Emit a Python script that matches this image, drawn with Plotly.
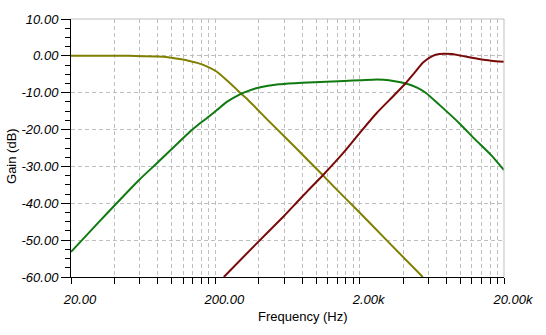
import math
import plotly.graph_objects as go

# Frequency response of a three-way crossover (gain in dB vs frequency in Hz)
low_freq = [20, 50, 80, 94, 110, 130, 150, 176, 205, 240, 281, 294, 328, 384,
            464, 614, 880, 1112, 1405, 1832, 3070, 5472]
low_gain = [0.0, 0.0, -0.2, -0.4, -0.8, -1.3, -1.9, -2.9, -4.3, -6.6, -9.1,
            -9.9, -11.5, -14.2, -17.5, -22.2, -28.4, -32.4, -36.5, -41.0,
            -50.0, -60.0]

mid_freq = [20, 31.5, 58.8, 80.4, 135, 150, 176, 205, 240, 294, 328, 384, 464,
            550, 718, 880, 1567, 2044, 2625, 2930, 3425, 4195, 5000, 5737,
            7140, 9760, 12560, 16348, 20000]
mid_gain = [-53.2, -44.9, -33.8, -28.8, -20.4, -18.9, -16.8, -14.7, -12.5,
            -10.5, -9.7, -8.8, -8.1, -7.7, -7.4, -7.2, -6.8, -6.6, -6.4, -6.5,
            -6.8, -7.5, -8.6, -10.0, -13.3, -18.2, -22.6, -27.0, -31.0]

high_freq = [229, 384, 596, 752, 880, 1112, 1567, 2044, 2625, 3425, 4195, 4700,
             5222, 5472, 6106, 6708, 7140, 7721, 8750, 10230, 11956, 13980,
             16348, 20000]
high_gain = [-60.0, -51.0, -43.5, -39.3, -36.5, -32.4, -26.0, -20.5, -15.5,
             -10.9, -7.3, -5.0, -2.8, -1.9, -0.5, 0.3, 0.5, 0.6, 0.5, 0.0,
             -0.5, -1.0, -1.3, -1.6]

# x ticks every 20*n per decade; only decade starts get a label
x_tick_vals = [m * d for d in (1, 10, 100) for m in range(20, 200, 20)] + [20000]
x_label_map = {20: "20.00", 200: "200.00", 2000: "2.00k", 20000: "20.00k"}
x_tick_text = [x_label_map.get(v, "") for v in x_tick_vals]

y_tick_vals = [10, 0, -10, -20, -30, -40, -50, -60]
y_tick_text = ["%.2f" % v for v in y_tick_vals]

FONT = "Liberation Sans, Arial, sans-serif"
GRID = "#bfbfbf"

fig = go.Figure()
for xs, ys, col in [(low_freq, low_gain, "#808000"),
                    (mid_freq, mid_gain, "#0f7a0f"),
                    (high_freq, high_gain, "#7a0a0a")]:
    fig.add_trace(go.Scatter(x=xs, y=ys, mode="lines",
                             line=dict(color=col, width=2, shape="spline",
                                       smoothing=0.5),
                             hoverinfo="skip"))

fig.update_layout(
    width=546, height=335,
    margin=dict(l=71, r=33, t=18, b=58),
    paper_bgcolor="white", plot_bgcolor="white",
    showlegend=False,
    font=dict(family=FONT, size=13, color="black"),
    xaxis=dict(
        type="log",
        range=[math.log10(20), math.log10(20000)],
        tickvals=x_tick_vals, ticktext=x_tick_text,
        ticks="outside", ticklen=6, tickcolor="black",
        tickfont=dict(family=FONT, size=13, style="italic"),
        ticklabelshift=9, ticklabelstandoff=4,
        showline=True, linecolor="black", linewidth=1,
        showgrid=True, gridcolor=GRID, griddash="4px,3px", gridwidth=1,
        zeroline=False,
    ),
    yaxis=dict(
        range=[-60, 10],
        tickvals=y_tick_vals, ticktext=y_tick_text,
        ticks="outside", ticklen=9, tickcolor="black",
        tickfont=dict(family=FONT, size=13, style="italic"),
        minor=dict(dtick=2.5, tick0=0, ticks="outside", ticklen=5,
                   tickcolor="black", showgrid=False),
        showline=True, linecolor="black", linewidth=1,
        showgrid=True, gridcolor=GRID, griddash="4px,3px", gridwidth=1,
        zeroline=False,
    ),
    shapes=[
        dict(type="line", xref="paper", yref="paper", x0=0, x1=1, y0=1, y1=1,
             line=dict(color=GRID, width=1)),
        dict(type="line", xref="paper", yref="paper", x0=1, x1=1, y0=0, y1=1,
             line=dict(color=GRID, width=1)),
    ],
    annotations=[
        dict(text="Frequency (Hz)", xref="paper", yref="paper",
             x=0.536, y=-0.155, xanchor="center", yanchor="middle",
             showarrow=False, font=dict(family=FONT, size=13)),
        dict(text="Gain (dB)", xref="paper", yref="paper",
             x=-0.138, y=0.47, xanchor="center", yanchor="middle",
             textangle=-90, showarrow=False, font=dict(family=FONT, size=13)),
    ],
)

fig.write_html("out.html")
